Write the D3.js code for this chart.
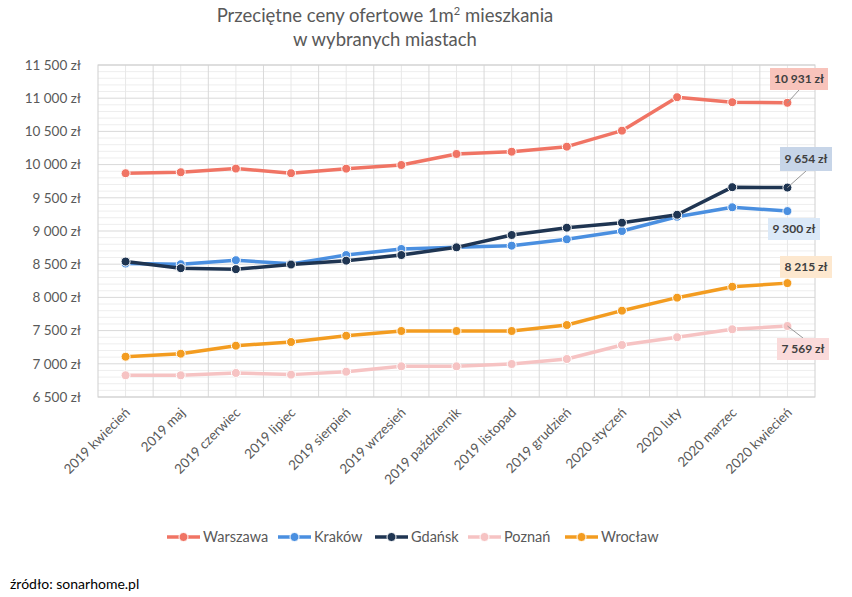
<!DOCTYPE html>
<html><head><meta charset="utf-8">
<script src="https://cdn.jsdelivr.net/npm/d3@7"></script>
<style>
body{margin:0;background:#fff;}
text{font-family:Lato,"Open Sans",sans-serif;}
</style></head>
<body>
<svg id="c" width="852" height="597"></svg>
<script>
const categories = ["2019 kwiecień","2019 maj","2019 czerwiec","2019 lipiec","2019 sierpień","2019 wrzesień","2019 październik","2019 listopad","2019 grudzień","2020 styczeń","2020 luty","2020 marzec","2020 kwiecień"];
const seriesNames = ["Warszawa","Kraków","Gdańsk","Poznań","Wrocław"];
const warszawa = [9870,9885,9940,9870,9939,9994,10160,10194,10270,10511,11015,10940,10931];
const krakow   = [8510,8500,8560,8505,8638,8729,8754,8779,8875,9000,9215,9357,9300];
const gdansk   = [8540,8440,8425,8495,8553,8638,8754,8940,9050,9125,9245,9660,9654];
const poznan   = [6827,6827,6862,6837,6881,6962,6962,6997,7072,7283,7400,7520,7569];
const wroclaw  = [7107,7152,7273,7328,7423,7494,7494,7494,7584,7800,7996,8161,8215];
const yTicks = [6500,7000,7500,8000,8500,9000,9500,10000,10500,11000,11500];
const colors = ["#f07464","#4a8fe0","#1f3552","#f6c3c3","#f39c20"];
const labelFills = ["#f8c3bb","#dbe9f8","#c7d5e8","#fadada","#fde8cf"];
const allSeries = [warszawa,krakow,gdansk,poznan,wroclaw];

const svg = d3.select("#c");
const L=98,R=815,T=65,B=397;
const x = d3.scaleBand().domain(categories).range([L,R]);
const y = d3.scaleLinear().domain([6500,11500]).range([B,T]);
const fmt = v => d3.format(",")(v).replace(/,/g," ")+" zł";

// minor grid
const g = svg.append("g");
g.selectAll("line.minor").data(d3.range(6600,11500,100).filter(v=>v%500)).enter().append("line")
 .attr("x1",L).attr("x2",R).attr("y1",d=>y(d)).attr("y2",d=>y(d)).attr("stroke","#eeeeee").attr("stroke-width",1);
g.selectAll("line.vc").data(categories).enter().append("line")
 .attr("x1",d=>x(d)+x.bandwidth()/2).attr("x2",d=>x(d)+x.bandwidth()/2).attr("y1",T).attr("y2",B).attr("stroke","#e8e8e8");
g.selectAll("line.vb").data(categories.slice(1)).enter().append("line")
 .attr("x1",d=>x(d)).attr("x2",d=>x(d)).attr("y1",T).attr("y2",B).attr("stroke","#d9d9d9");
g.selectAll("line.major").data(yTicks).enter().append("line")
 .attr("x1",L).attr("x2",R).attr("y1",d=>y(d)).attr("y2",d=>y(d)).attr("stroke","#d9d9d9");
g.append("rect").attr("x",L).attr("y",T).attr("width",R-L).attr("height",B-T).attr("fill","none").attr("stroke","#d0d0d0");

// y axis
const ya = svg.append("g").attr("transform",`translate(${L-14},0)`)
 .call(d3.axisLeft(y).tickValues(yTicks).tickSize(0).tickFormat(fmt));
ya.select(".domain").remove();
ya.selectAll("text").attr("fill","#595959").attr("font-size",13.5).attr("font-family","Lato,sans-serif");

// x axis
const xa = svg.append("g").attr("transform",`translate(0,${B})`)
 .call(d3.axisBottom(x).tickSize(0).tickPadding(0));
xa.select(".domain").remove();
xa.selectAll("text").attr("fill","#595959").attr("font-size",13.5).attr("font-family","Lato,sans-serif")
 .attr("text-anchor","end").attr("x",0).attr("y",0).attr("dy","0.35em")
 .attr("transform","translate(2,13) rotate(-45)");

// lines
const line = d3.line().x((d,i)=>x(categories[i])+x.bandwidth()/2).y(d=>y(d));
const drawOrder=[3,4,0,1,2];
drawOrder.forEach(s=>{
  const data=allSeries[s];
  svg.append("path").datum(data).attr("d",line).attr("fill","none").attr("stroke",colors[s]).attr("stroke-width",3.5).attr("stroke-linejoin","round");
  svg.selectAll(null).data(data).enter().append("circle")
   .attr("cx",(d,i)=>x(categories[i])+x.bandwidth()/2).attr("cy",d=>y(d)).attr("r",4.5)
   .attr("fill",colors[s]).attr("stroke","#fff").attr("stroke-width",1);
});

// data labels
const last = categories.length-1;
const lx = x(categories[last])+x.bandwidth()/2;
const labels = [
 {s:0,cx:799,cy:79,w:58,h:22,leader:true},
 {s:2,cx:806,cy:159,w:52,h:24,leader:true},
 {s:1,cx:794,cy:229,w:52,h:22,leader:false},
 {s:4,cx:806,cy:267,w:52,h:22,leader:false},
 {s:3,cx:803,cy:349,w:52,h:22,leader:true}
];
labels.forEach(l=>{
  const v=allSeries[l.s][last], py=y(v);
  if(l.leader){
    const ey = py<l.cy ? l.cy-l.h/2 : l.cy+l.h/2;
    svg.append("line").attr("x1",lx).attr("y1",py).attr("x2",l.cx).attr("y2",ey).attr("stroke","#999").attr("stroke-width",1);
  }
  svg.append("rect").attr("x",l.cx-l.w/2).attr("y",l.cy-l.h/2).attr("width",l.w).attr("height",l.h).attr("fill",labelFills[l.s]);
  svg.append("text").attr("x",l.cx).attr("y",l.cy).attr("dy","0.35em").attr("text-anchor","middle")
   .attr("font-size",12).attr("font-weight","bold").attr("fill","#404040").text(fmt(v));
});

// title
const t = svg.append("text").attr("x",385).attr("y",22).attr("text-anchor","middle").attr("font-size",18.5).attr("fill","#595959");
t.append("tspan").text("Przeciętne ceny ofertowe 1m");
t.append("tspan").attr("font-size",11).attr("dy",-7).text("2");
t.append("tspan").attr("dy",7).text(" mieszkania");
svg.append("text").attr("x",385).attr("y",46).attr("text-anchor","middle").attr("font-size",18.5).attr("fill","#595959").text("w wybranych miastach");

// legend
const legX=[167,278,375,468,565];
seriesNames.forEach((n,i)=>{
  const lg=svg.append("g").attr("transform",`translate(${legX[i]},537)`);
  lg.append("line").attr("x1",0).attr("x2",33).attr("stroke",colors[i]).attr("stroke-width",3.5);
  lg.append("circle").attr("cx",16.5).attr("cy",0).attr("r",4.5).attr("fill",colors[i]).attr("stroke","#fff").attr("stroke-width",1);
  lg.append("text").attr("x",36).attr("dy","0.35em").attr("font-size",14.5).attr("fill","#595959").text(n);
});

svg.append("text").attr("x",10).attr("y",589).attr("font-size",14).attr("fill","#000").text("źródło: sonarhome.pl");
</script>
</body></html>
